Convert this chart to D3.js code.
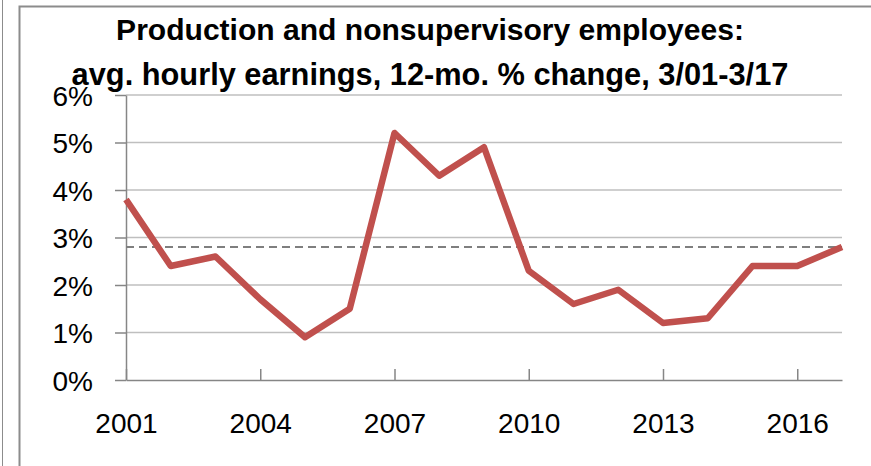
<!DOCTYPE html>
<html>
<head>
<meta charset="utf-8">
<script src="https://cdn.jsdelivr.net/npm/d3@7"></script>
<style>
  body { margin: 0; background: #fff; }
  text { font-family: "Liberation Sans", Arial, sans-serif; }
</style>
</head>
<body>
<div id="viz-container"></div>
<script>
// data
let years = [2001, 2002, 2003, 2004, 2005, 2006, 2007, 2008, 2009,
             2010, 2011, 2012, 2013, 2014, 2015, 2016, 2017];
let pctChange = [3.8, 2.4, 2.6, 1.7, 0.9, 1.5, 5.2, 4.3, 4.9,
                 2.3, 1.6, 1.9, 1.2, 1.3, 2.4, 2.4, 2.8];
let avgLine = 2.8;
let yTicks = [0, 1, 2, 3, 4, 5, 6];
let xTicks = [2001, 2004, 2007, 2010, 2013, 2016];
let titleLines = ["Production and nonsupervisory employees:",
                  "avg. hourly earnings, 12-mo. % change, 3/01-3/17"];

let W = 871, H = 466;
let viz = d3.select("#viz-container")
            .append("svg")
              .attr("width", W)
              .attr("height", H);

// outer frame lines
viz.append("line").attr("x1", 2.5).attr("x2", 2.5).attr("y1", 0).attr("y2", H)
   .attr("stroke", "#8c8c8c").attr("stroke-width", 1);
viz.append("path").attr("d", "M19.5," + H + "V6.5H" + W)
   .attr("fill", "none").attr("stroke", "#8c8c8c").attr("stroke-width", 2);

let plotL = 126, plotR = 842, plotT = 95, plotB = 380;

let x = d3.scaleLinear().domain([2001, 2017]).range([plotL, plotR]);
let y = d3.scaleLinear().domain([0, 6]).range([plotB, plotT]);

// gridlines
viz.append("g").selectAll("line").data(yTicks.filter(d => d > 0)).enter().append("line")
   .attr("x1", plotL).attr("x2", plotR)
   .attr("y1", d => y(d)).attr("y2", d => y(d))
   .attr("stroke", "#bfbfbf").attr("stroke-width", 1.5);

// y axis
let yAxis = viz.append("g").attr("transform", "translate(" + plotL + ",0)")
   .call(d3.axisLeft(y).tickValues(yTicks).tickSize(11).tickSizeOuter(0).tickPadding(22)
          .tickFormat(d => d + "%"));
yAxis.select(".domain").attr("stroke", "#868686").attr("stroke-width", 1.5);
yAxis.selectAll(".tick line").attr("stroke", "#868686").attr("stroke-width", 1.5);
yAxis.selectAll("text").attr("font-size", 28).attr("fill", "#000")
     .attr("font-family", "Liberation Sans, Arial, sans-serif").attr("dy", "0.36em");

// x axis, ticks point up inside the plot
let xAxis = viz.append("g").attr("transform", "translate(0," + plotB + ")")
   .call(d3.axisBottom(x).tickValues(xTicks).tickSize(-11).tickSizeOuter(0).tickPadding(33)
          .tickFormat(d3.format("d")));
xAxis.select(".domain").attr("stroke", "#868686").attr("stroke-width", 1.5);
xAxis.selectAll(".tick line").attr("stroke", "#868686").attr("stroke-width", 1.5);
xAxis.selectAll("text").attr("font-size", 28).attr("fill", "#000")
     .attr("font-family", "Liberation Sans, Arial, sans-serif").attr("dy", "0.71em");

// dashed average line
viz.append("line")
   .attr("x1", plotL).attr("x2", plotR)
   .attr("y1", y(avgLine)).attr("y2", y(avgLine))
   .attr("stroke", "#7f7f7f").attr("stroke-width", 2)
   .attr("stroke-dasharray", "8,5");

// main series
let line = d3.line().x((d, i) => x(years[i])).y(d => y(d));
viz.append("path").datum(pctChange)
   .attr("d", line)
   .attr("fill", "none")
   .attr("stroke", "#c0504d")
   .attr("stroke-width", 6.5)
   .attr("stroke-linejoin", "round");

// title, fitted to the widths seen in the picture
let titleBase = [40, 85];
let titleWidth = [628, 717];
let titleCenter = 430;
viz.selectAll(".title").data(titleLines).enter().append("text")
   .attr("class", "title")
   .attr("x", titleCenter)
   .attr("y", (d, i) => titleBase[i])
   .attr("text-anchor", "middle")
   .attr("font-weight", "bold")
   .attr("font-size", 24)
   .attr("fill", "#000")
   .text(d => d)
   .each(function(d, i) {
       let w = this.getComputedTextLength();
       d3.select(this).attr("font-size", 24 * titleWidth[i] / w);
   });
</script>
</body>
</html>
